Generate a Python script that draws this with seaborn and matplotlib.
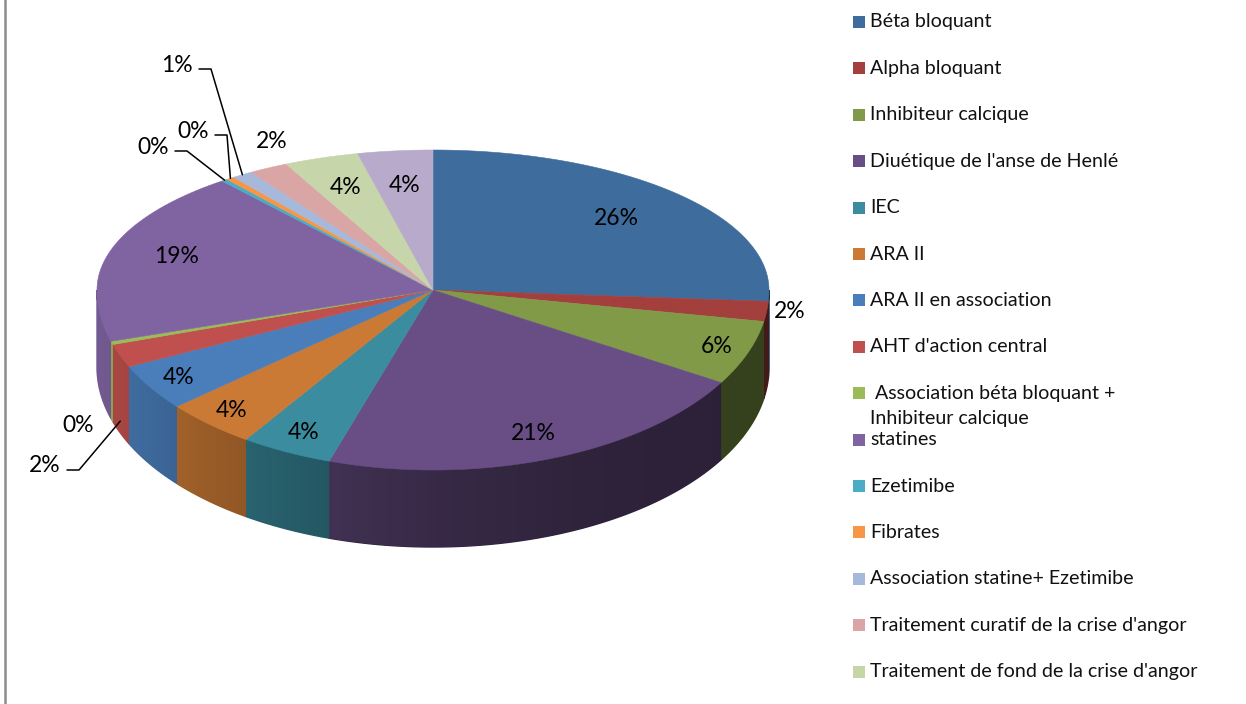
import numpy as np
import matplotlib
matplotlib.use("Agg")
import matplotlib.pyplot as plt
import seaborn as sns

# --- données (parts en %) ---
categories = [
    "Béta bloquant", "Alpha bloquant", "Inhibiteur calcique",
    "Diuétique de l'anse de Henlé", "IEC", "ARA II", "ARA II en association",
    "AHT d'action central", " Association béta bloquant +\nInhibiteur calcique",
    "statines", "Ezetimibe", "Fibrates", "Association statine+ Ezetimibe",
    "Traitement curatif de la crise d'angor",
    "Traitement de fond de la crise d'angor", "Autres",
]
shares = [26.0, 1.8, 5.8, 21.4, 4.4, 4.4, 4.2, 2.1, 0.3, 18.8, 0.3, 0.4, 1.0, 1.9, 3.6, 3.6]
colors = [
    "#3E6C9D", "#A3403D", "#809A47", "#684E84", "#3A8C9E", "#CB7A35",
    "#4A7EBB", "#C0504D", "#9BBB59", "#8064A2", "#4BACC6", "#F79646",
    "#A7B9DA", "#D9A6A5", "#C6D6AA", "#B8AACB",
]
n_legend = 15  # la dernière entrée est coupée dans l'original

# --- mise en page (pixels) ---
CX, CY = 433, 290
RX, RY_BACK, RY_FRONT = 336, 140, 180
DEPTH = 77

label_k = [0.75, 1.07, 0.9, 0.85, 0.88, 0.9, 0.9, 1.0, 1.0, 0.8, 1.0, 1.0, 1.0, 1.0, 0.78, 0.75]
label_fixed = {1: (790, 312), 8: (78, 426), 13: (272, 142)}
leader_text = {7: (45, 466), 10: (153, 147), 11: (193, 131), 12: (177, 65)}
PCT_SIZE = 16.5
LEG_SIZE = 14.1


def rim(theta_deg, k=1.0):
    t = np.radians(theta_deg)
    ry = np.where(np.sin(t) > 0, RY_BACK, RY_FRONT)
    return CX + k * RX * np.cos(t), CY - k * ry * np.sin(t)


def side_factor(x):
    # éclairage venant de la gauche : le côté droit est plus sombre
    c = np.clip((x - CX) / RX, -1, 1)
    return 0.42 + 0.48 * ((1 - c) / 2) ** 2


sns.set_theme(style="white")
plt.rcParams["font.family"] = ["Lato", "DejaVu Sans"]
palette = sns.color_palette(colors)

fig = plt.figure(figsize=(12.46, 7.04), dpi=100)
ax = fig.add_axes([0, 0, 1, 1])
ax.axis("off")

frac = np.array(shares) / np.sum(shares)
edges = 90 - 360 * np.concatenate([[0], np.cumsum(frac)])

# côtés du cylindre (partie avant), avec dégradé horizontal
for i in range(len(shares)):
    a, b = max(edges[i + 1], -180), min(edges[i], 0)
    if a >= b:
        continue
    ts = np.linspace(b, a, 200)
    xs, ys = rim(ts)
    px = np.r_[xs, xs[::-1]]
    py = np.r_[ys, ys[::-1] + DEPTH]
    base = np.array(matplotlib.colors.to_rgb(colors[i]))
    mid_col = tuple(base * side_factor(xs.mean()))
    poly = ax.fill(px, py, color=mid_col, ec=mid_col, lw=1.0)[0]
    gx = np.linspace(px.min(), px.max(), 100)
    img = (base[None, :] * side_factor(gx)[:, None])[None, :, :]
    im = ax.imshow(img, extent=(px.min(), px.max(), py.max(), py.min()),
                   aspect="auto", interpolation="bilinear", zorder=1.5)
    im.set_clip_path(poly)

# faces supérieures
for i in range(len(shares)):
    ts = np.linspace(edges[i], edges[i + 1], max(3, int(abs(edges[i] - edges[i + 1]) * 2)))
    xs, ys = rim(ts)
    ax.fill(np.r_[CX, xs], np.r_[CY, ys], color=palette[i], ec=palette[i], lw=0.4, zorder=2)

# étiquettes de pourcentage
for i, s in enumerate(frac * 100):
    txt = f"{round(s):.0f}%"
    mid = (edges[i] + edges[i + 1]) / 2
    if i in leader_text:
        tx, ty = leader_text[i]
        lx, ly = rim(mid)
        if np.sin(np.radians(mid)) < 0:
            ly = ly + DEPTH * 0.85
        ax.plot([tx + 22, tx + 34, lx], [ty + 4, ty + 4, ly], color="black", lw=1.1, zorder=3)
        ax.text(tx, ty, txt, ha="center", va="center", fontsize=PCT_SIZE, color="black", zorder=4)
        continue
    if i in label_fixed:
        x, y = label_fixed[i]
    else:
        x, y = rim(mid, label_k[i])
    ax.text(x, y, txt, ha="center", va="center", fontsize=PCT_SIZE, color="black", zorder=4)

# légende
for i in range(n_legend):
    y = 22 + i * 46.4
    ax.add_patch(plt.Rectangle((853, y - 6), 12, 12, color=palette[i], lw=0))
    for j, line in enumerate(categories[i].split("\n")):
        ax.text(870, y + j * 25, line, ha="left", va="center", fontsize=LEG_SIZE, color="#111111")

# bordure gauche du cadre
ax.plot([4.5, 4.5], [0, 704], color="#8c8c8c", lw=1.8)

ax.set_xlim(0, 1246)
ax.set_ylim(704, 0)
fig.savefig("out.png", dpi=100)
